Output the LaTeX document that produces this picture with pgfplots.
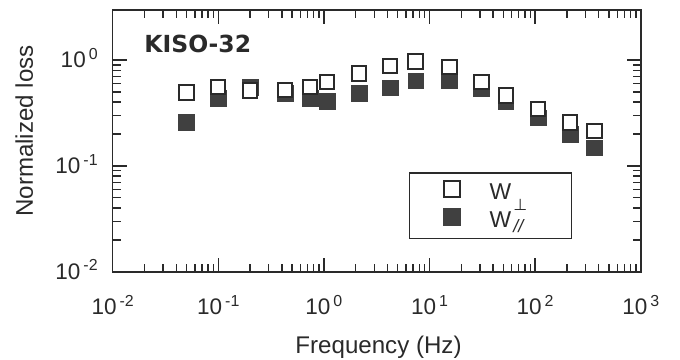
\documentclass[border=0pt]{standalone}
\usepackage{pgfplots}
\pgfplotsset{compat=1.18}
\usepackage{fontspec}
\setmainfont{Liberation Sans}
\newfontfamily\titlefont{DejaVu Sans}
\newfontfamily\symfont{DejaVu Sans}
\definecolor{fillgray}{HTML}{404040}
\definecolor{ink}{HTML}{2A2A2A}
\newcommand{\tl}[1]{10\hspace{1.5bp}\raisebox{4.3bp}{\fontsize{8}{9}\selectfont #1}}
\newcommand{\perpsub}{\smash{\lower5.5bp\hbox{\symfont\fontsize{8}{9}\selectfont ⊥}}}
\newcommand{\parsub}{\smash{\lower2.5bp\hbox{\fontsize{9}{10}\selectfont\itshape //}}}
\begin{document}
\begin{tikzpicture}
\useasboundingbox (-56.35bp,-44.15bp) rectangle (283.65bp,135.85bp);
\begin{axis}[
  at={(0,0)}, anchor=south west,
  scale only axis, width=264bp, height=130.85bp,
  xmode=log, ymode=log,
  xmin=0.01, xmax=1000, ymin=0.01, ymax=2.97,
  xtick={0.01,0.1,1,10,100,1000},
  xticklabels={\tl{-2},\tl{-1},\tl{0},\tl{1},\tl{2},\tl{3}},
  ytick={0.01,0.1,1},
  yticklabels={\tl{-2},\tl{-1},\tl{0}},
  tick align=inside,
  major tick length=7bp, minor tick length=4bp,
  axis line style={line width=0.8bp, ink},
  every tick/.style={ink, line width=0.7bp},
  font=\fontsize{11.3}{13}\selectfont,
  xticklabel style={anchor=base, yshift=-21.6bp, text=ink},
  yticklabel style={anchor=base east, xshift=-4bp, yshift=-3.9bp, text=ink},
  legend style={at={(rel axis cs:0.5612,0.125)}, anchor=south west,
    draw=ink, line width=0.7bp, inner xsep=17bp, inner ysep=4bp,
    row sep=3bp, nodes={inner sep=0pt, text=ink},
    /tikz/every odd column/.append style={column sep=14.8bp},
    font=\fontsize{11.5}{13}\selectfont},
  legend cell align=left,
  legend image code/.code={\draw[#1, mark size=4.1bp] plot coordinates {(0bp,1.5bp)};},
  reverse legend,
  clip=false,
]
\addplot[only marks, mark=square*, mark size=3.9bp, mark options={fill=fillgray, draw=fillgray, line width=0.3bp}] coordinates {
(0.05,0.257) (0.1,0.435) (0.2,0.553) (0.43,0.485) (0.74,0.435) (1.07,0.407)
(2.15,0.485) (4.25,0.547) (7.4,0.634) (15.5,0.635) (31,0.541) (53,0.404)
(107,0.285) (215,0.200) (365,0.148)};
\addlegendentry{\makebox[24bp][l]{\rule[-4bp]{0pt}{13bp}W\hspace{1bp}\parsub}}
\addplot[only marks, mark=square*, mark size=3.6bp, mark options={fill=white, draw=ink, line width=1bp}] coordinates {
(0.05,0.495) (0.1,0.553) (0.2,0.514) (0.43,0.52) (0.74,0.553) (1.07,0.617)
(2.15,0.746) (4.25,0.877) (7.4,0.97) (15.5,0.857) (31,0.617) (53,0.461)
(107,0.344) (215,0.257) (365,0.214)};
\addlegendentry{\makebox[24bp][l]{\rule[-4bp]{0pt}{13bp}W\hspace{1bp}\perpsub}}
\end{axis}
\node[anchor=base west, inner sep=0pt, text=ink, font=\titlefont\bfseries\fontsize{11.8}{13}\selectfont] at (15.65bp,109.7bp) {KISO-32};
\node[anchor=base, inner sep=0pt, text=ink, font=\fontsize{12.1}{14}\selectfont] at (132.9bp,-40.65bp) {Frequency (Hz)};
\node[anchor=base, rotate=90, inner sep=0pt, text=ink, font=\fontsize{12.1}{14}\selectfont] at (-39.85bp,70.35bp) {Normalized loss};
\end{tikzpicture}
\end{document}
